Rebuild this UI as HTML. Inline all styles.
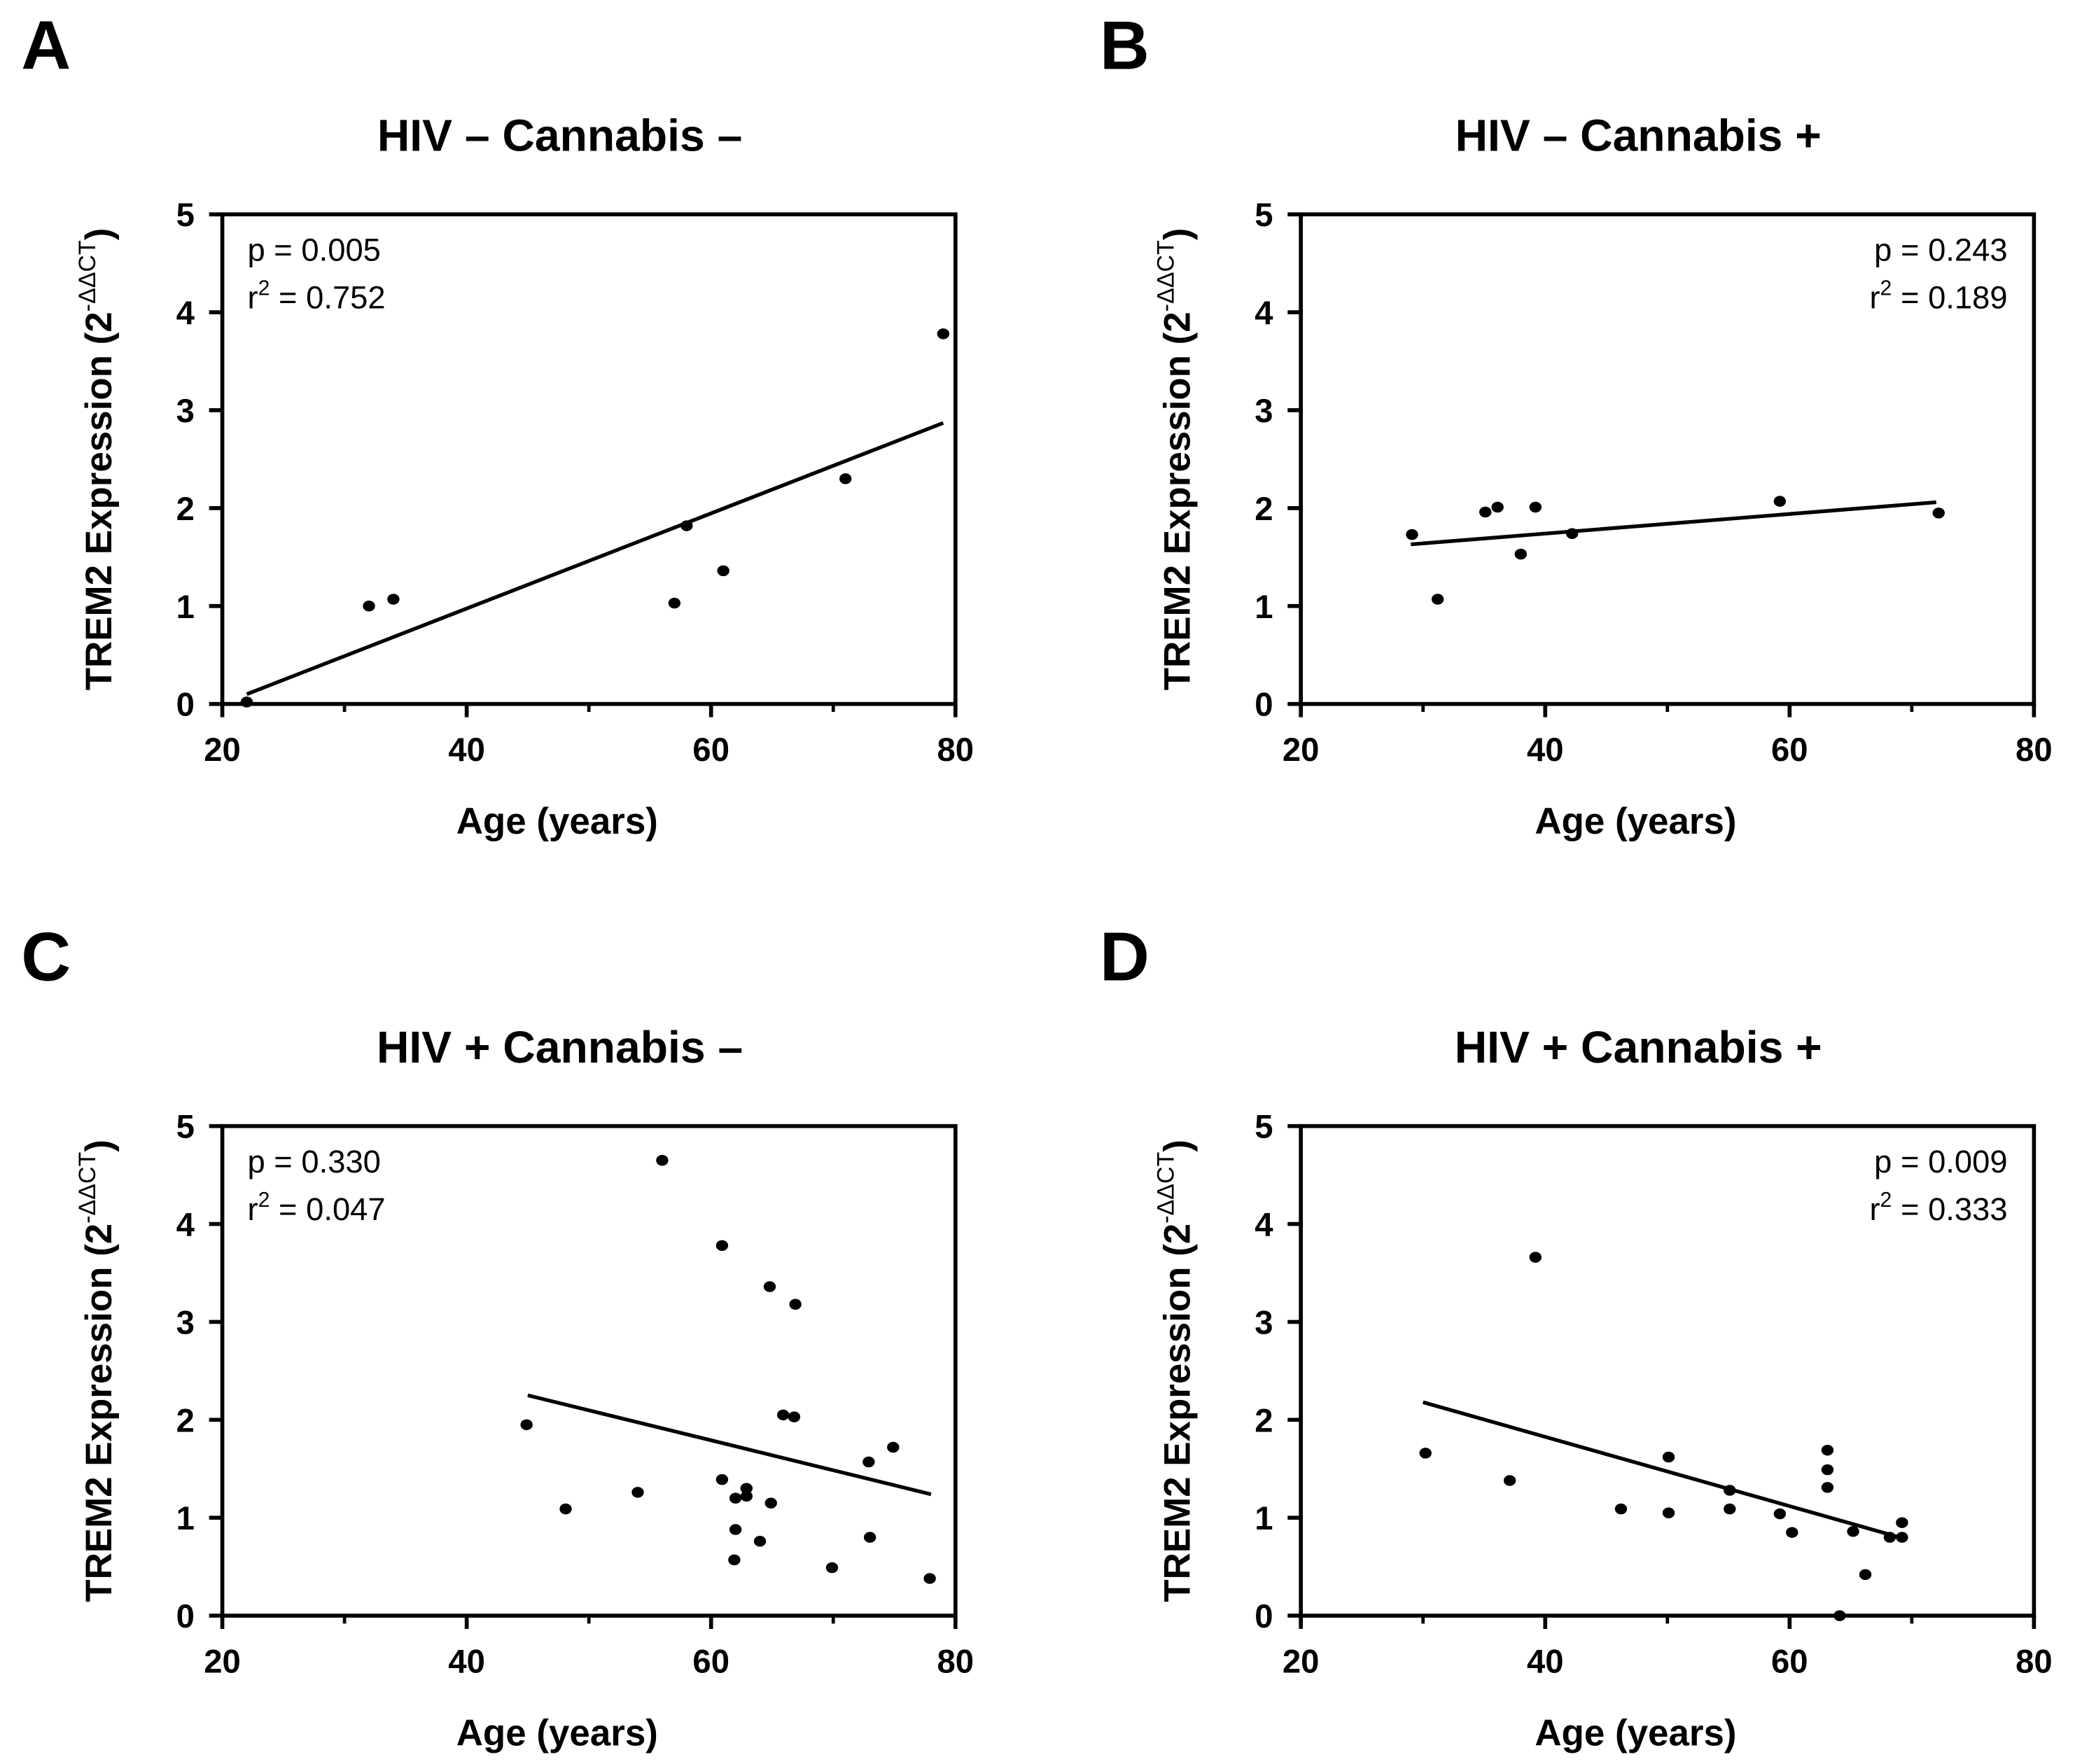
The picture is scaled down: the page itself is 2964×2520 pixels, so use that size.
<!DOCTYPE html>
<html><head><meta charset="utf-8">
<style>html,body{margin:0;padding:0;background:#fff}svg{display:block}text{font-family:"Liberation Sans",Arial,sans-serif;fill:#000}</style>
</head><body>
<svg id="fig" width="2964" height="2520" viewBox="0 0 1568 1333.1" preserveAspectRatio="none" xmlns="http://www.w3.org/2000/svg"></svg>
<script>
// Panel A data
const aAge=[22,32,34,57,58,61,71,79];
const aExpr=[0.02,1.0,1.07,1.03,1.82,1.36,2.3,3.78];
const aFit=[[22,0.1],[79,2.87]];
// Panel B data
const bAge=[29.1,31.2,35.1,36.1,38.0,39.2,42.2,59.2,72.2];
const bExpr=[1.73,1.07,1.96,2.01,1.53,2.01,1.74,2.07,1.95];
const bFit=[[29,1.63],[72,2.06]];
// Panel C data
const cAge=[44.9,48.1,54.0,56.0,60.9,60.9,62.0,62.0,61.9,62.9,62.9,64.0,64.8,64.9,65.9,66.9,66.8,69.9,72.9,73.0,74.9,77.9];
const cExpr=[1.95,1.09,1.26,4.65,3.78,1.39,1.2,0.88,0.57,1.30,1.22,0.76,3.36,1.15,2.05,3.18,2.03,0.49,1.57,0.80,1.72,0.38];
const cFit=[[45,2.25],[78,1.24]];
// Panel D data
const dAge=[30.2,37.1,39.2,46.2,50.1,50.1,55.1,55.1,59.2,60.2,63.1,63.1,63.1,64.1,65.2,66.2,68.2,69.2,69.2];
const dExpr=[1.66,1.38,3.66,1.09,1.62,1.05,1.28,1.09,1.04,0.85,1.69,1.49,1.31,0.0,0.86,0.42,0.80,0.95,0.80];
const dFit=[[30,2.18],[69,0.8]];
const xMajor=[20,40,60,80];
const xMinor=[30,50,70];
const yTicks=[0,1,2,3,4,5];

const NS="http://www.w3.org/2000/svg";
const svg=document.getElementById('fig');
function mk(tag,attrs,parent){const e=document.createElementNS(NS,tag);for(const k in attrs)e.setAttribute(k,attrs[k]);(parent||svg).appendChild(e);return e;}

const panels=[
 {L:'A',title:'HIV – Cannabis –',x0:168,y0:532,age:aAge,ex:aExpr,fit:aFit,p:'0.005',r:'0.752',right:false},
 {L:'B',title:'HIV – Cannabis +',x0:983,y0:532,age:bAge,ex:bExpr,fit:bFit,p:'0.243',r:'0.189',right:true},
 {L:'C',title:'HIV + Cannabis –',x0:168,y0:1221,age:cAge,ex:cExpr,fit:cFit,p:'0.330',r:'0.047',right:false},
 {L:'D',title:'HIV + Cannabis +',x0:983,y0:1221,age:dAge,ex:dExpr,fit:dFit,p:'0.009',r:'0.333',right:true}
];
const W=554,H=370;
panels.forEach(P=>{
  const g=mk('g',{});
  
  
  const sx=v=>P.x0+(v-20)/60*W;
  const sy=v=>P.y0-v/5*H;
  const lt=mk('text',{x:P.x0-152,y:P.y0-H-110,'font-size':52,'font-weight':'bold'},g);lt.textContent=P.L;
  
  const tt=mk('text',{x:P.x0+W/2-22,y:P.y0-H-48,'font-size':34,'font-weight':'bold','text-anchor':'middle'},g);tt.textContent=P.title;
  
  const fr=mk('rect',{x:P.x0,y:P.y0-H,width:W,height:H,fill:'none',stroke:'#000','stroke-width':3},g);
  
  xMajor.forEach(v=>{
    const t=mk('line',{x1:sx(v),x2:sx(v),y1:P.y0,y2:P.y0+10,stroke:'#000','stroke-width':3},g);
    
    const tx=mk('text',{x:sx(v),y:P.y0+43,'font-size':25,'font-weight':'bold','text-anchor':'middle'},g);tx.textContent=v;
    
  });
  xMinor.forEach(v=>{
    const t=mk('line',{x1:sx(v),x2:sx(v),y1:P.y0,y2:P.y0+6,stroke:'#000','stroke-width':2.5},g);
    
  });
  yTicks.forEach(v=>{
    const t=mk('line',{x1:P.x0-10,x2:P.x0,y1:sy(v),y2:sy(v),stroke:'#000','stroke-width':3},g);
    
    const tx=mk('text',{x:P.x0-21,y:sy(v)+9,'font-size':25,'font-weight':'bold','text-anchor':'end'},g);tx.textContent=v;
    
  });
  const xl=mk('text',{x:P.x0+W/2-24,y:P.y0+98,'font-size':28,'font-weight':'bold','text-anchor':'middle'},g);xl.textContent='Age (years)';
  
  const yl=mk('text',{x:0,y:0,'font-size':28,'font-weight':'bold','text-anchor':'middle',transform:`translate(${P.x0-84},${P.y0-H/2}) rotate(-90)`},g);
  yl.innerHTML='TREM2 Expression (2<tspan font-size="18" font-weight="normal" dy="-12">-ΔΔCT</tspan><tspan dy="12">)</tspan>';
  
  const ln=mk('line',{x1:sx(P.fit[0][0]),y1:sy(P.fit[0][1]),x2:sx(P.fit[1][0]),y2:sy(P.fit[1][1]),stroke:'#000','stroke-width':2.8},g);
  
  P.age.forEach((a,i)=>{
    const c=mk('ellipse',{cx:sx(a),cy:sy(P.ex[i]),rx:4.6,ry:4.1,fill:'#000'},g);
    
  });
  const tx=P.right?P.x0+W-20:P.x0+19, anc=P.right?'end':'start';
  const pt=mk('text',{x:tx,y:P.y0-H+35,'font-size':24,'text-anchor':anc},g);pt.textContent='p = '+P.p;
  
  const rt=mk('text',{x:tx,y:P.y0-H+71,'font-size':24,'text-anchor':anc},g);
  rt.innerHTML='r<tspan font-size="16" dy="-10">2</tspan><tspan dy="10"> = '+P.r+'</tspan>';
  
});
</script>
</body></html>
